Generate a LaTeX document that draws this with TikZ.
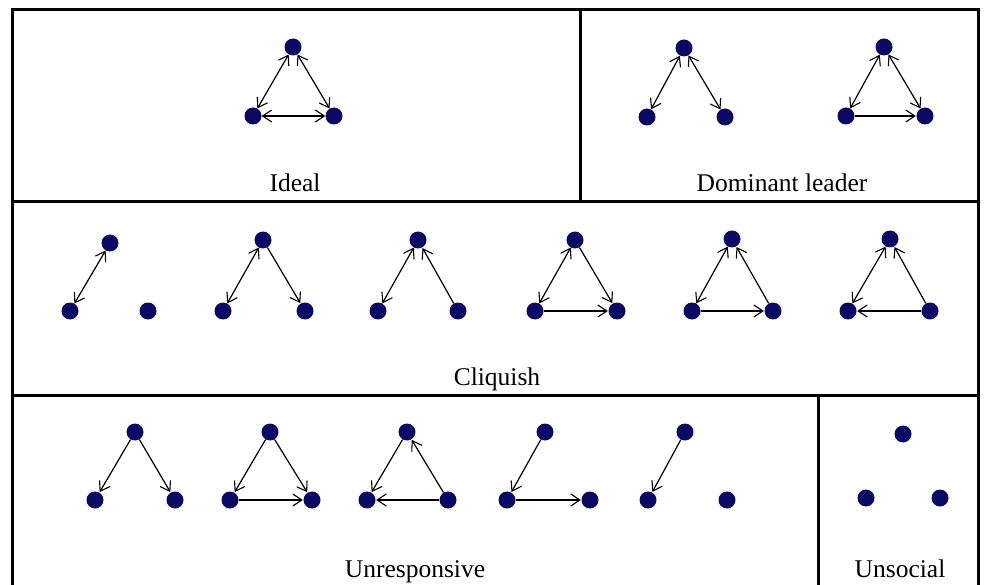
\documentclass[tikz,border=0pt]{standalone}
\usepackage{fontspec}
\setmainfont{Liberation Serif}
\usetikzlibrary{arrows.meta}
\definecolor{navy}{RGB}{10,10,100}
\tikzset{
  dot/.style={circle,fill=navy,inner sep=0pt,minimum size=17pt},
  tipb/.tip={Straight Barb[length=9pt,width=12pt,line width=1.1pt]},
  arr/.style={-tipb,line width=1.2pt,shorten >=0.5pt},
  mut/.style={tipb-tipb,line width=1.2pt},
  lbl/.style={anchor=base,inner sep=0pt,font=\fontsize{25.5}{30}\selectfont},
  frame/.style={line width=3pt}
}
\begin{document}
\begin{tikzpicture}[x=1pt,y=-1pt]
\useasboundingbox (0,0) rectangle (990,585);
% frame
\draw[frame] (12,590) -- (12,10) -- (978,10) -- (978,590);
\draw[frame] (12,202) -- (978,202);
\draw[frame] (12,395) -- (978,395);
\draw[frame] (580,10) -- (580,202);
\draw[frame] (818,395) -- (818,590);
% labels
\node[lbl] (L1) at (295,192) {Ideal};
\node[lbl] (L2) at (782,192) {Dominant leader};
\node[lbl] (L3) at (497,385) {Cliquish};
\node[lbl] (L4) at (415,577) {Unresponsive};
\node[lbl] (L5) at (900,577) {Unsocial};
% Ideal
\node[dot] (at) at (293,47) {}; \node[dot] (al) at (253,116) {}; \node[dot] (ar) at (334,116) {};
\draw[mut] (at) -- (al); \draw[mut] (at) -- (ar); \draw[mut] (al) -- (ar);
% Dominant leader 1
\node[dot] (bt) at (684,48) {}; \node[dot] (bl) at (647,117) {}; \node[dot] (br) at (725,117) {};
\draw[mut] (bt) -- (bl); \draw[mut] (bt) -- (br);
% Dominant leader 2
\node[dot] (ct) at (884,47) {}; \node[dot] (cl) at (846,116) {}; \node[dot] (cr) at (925,116) {};
\draw[mut] (ct) -- (cl); \draw[mut] (ct) -- (cr); \draw[arr] (cl) -- (cr);
% Cliquish 1
\node[dot] (dt) at (110,243) {}; \node[dot] (dl) at (70,311) {}; \node[dot] (dr) at (148,311) {};
\draw[mut] (dt) -- (dl);
% Cliquish 2
\node[dot] (et) at (263,240) {}; \node[dot] (el) at (223,311) {}; \node[dot] (er) at (305,311) {};
\draw[mut] (et) -- (el); \draw[arr] (et) -- (er);
% Cliquish 3
\node[dot] (ft) at (418,240) {}; \node[dot] (fl) at (378,311) {}; \node[dot] (fr) at (458,311) {};
\draw[mut] (ft) -- (fl); \draw[arr] (fr) -- (ft);
% Cliquish 4
\node[dot] (gt) at (575,240) {}; \node[dot] (gl) at (535,311) {}; \node[dot] (gr) at (617,311) {};
\draw[mut] (gt) -- (gl); \draw[arr] (gt) -- (gr); \draw[arr] (gl) -- (gr);
% Cliquish 5
\node[dot] (ht) at (732,239) {}; \node[dot] (hl) at (692,311) {}; \node[dot] (hr) at (773,311) {};
\draw[mut] (ht) -- (hl); \draw[arr] (hr) -- (ht); \draw[arr] (hl) -- (hr);
% Cliquish 6
\node[dot] (kt) at (890,239) {}; \node[dot] (kl) at (848,311) {}; \node[dot] (kr) at (930,311) {};
\draw[mut] (kt) -- (kl); \draw[arr] (kr) -- (kt); \draw[arr] (kr) -- (kl);
% Unresponsive 1
\node[dot] (mt) at (135,432) {}; \node[dot] (ml) at (95,500) {}; \node[dot] (mr) at (175,500) {};
\draw[arr] (mt) -- (ml); \draw[arr] (mt) -- (mr);
% Unresponsive 2
\node[dot] (nt) at (270,432) {}; \node[dot] (nl) at (230,500) {}; \node[dot] (nr) at (312,500) {};
\draw[arr] (nt) -- (nl); \draw[arr] (nt) -- (nr); \draw[arr] (nl) -- (nr);
% Unresponsive 3
\node[dot] (ot) at (407,432) {}; \node[dot] (ol) at (367,500) {}; \node[dot] (or) at (448,500) {};
\draw[arr] (ot) -- (ol); \draw[arr] (or) -- (ot); \draw[arr] (or) -- (ol);
% Unresponsive 4
\node[dot] (pt) at (545,432) {}; \node[dot] (pl) at (507,500) {}; \node[dot] (pr) at (590,500) {};
\draw[arr] (pt) -- (pl); \draw[arr] (pl) -- (pr);
% Unresponsive 5
\node[dot] (qt) at (685,432) {}; \node[dot] (ql) at (648,500) {}; \node[dot] (qr) at (727,500) {};
\draw[arr] (qt) -- (ql);
% Unsocial
\node[dot] (st) at (903,434) {}; \node[dot] (sl) at (866,498) {}; \node[dot] (sr) at (940,498) {};
\end{tikzpicture}
\end{document}
